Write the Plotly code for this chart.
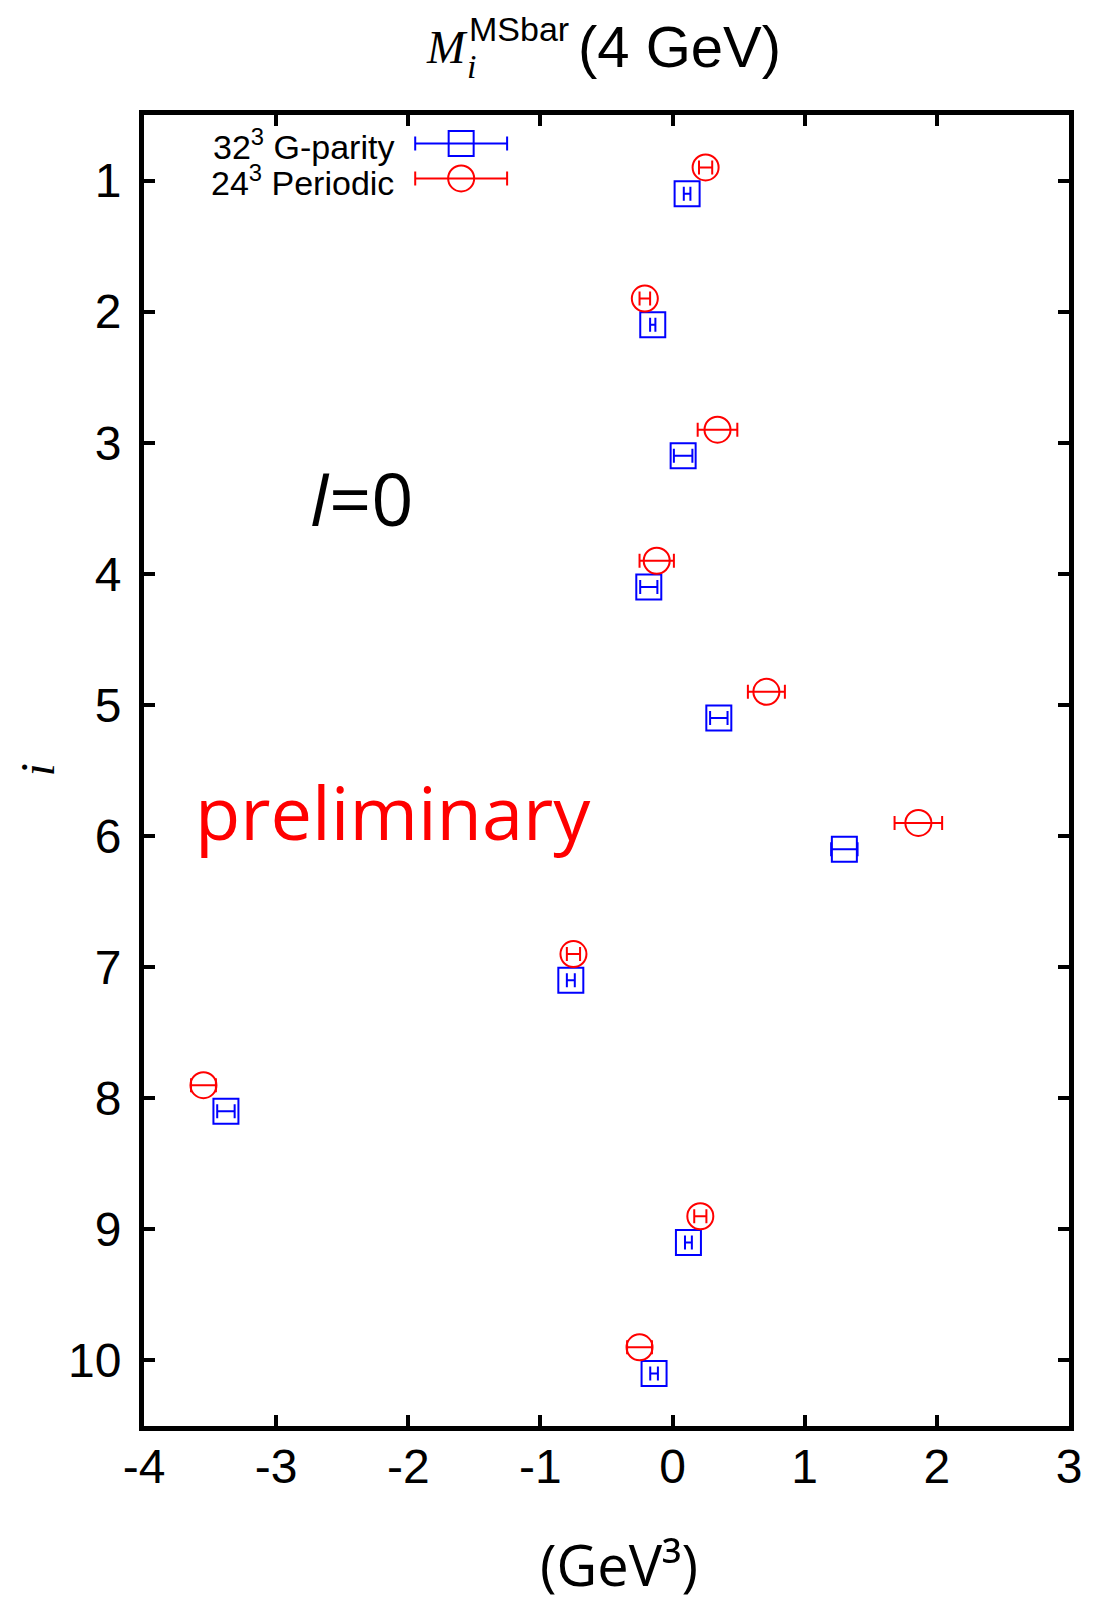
import plotly.graph_objects as go

# ---------------- data ----------------
operator_index = [1, 2, 3, 4, 5, 6, 7, 8, 9, 10]

gparity_32_value = [0.11, -0.15, 0.08, -0.18, 0.35, 1.30, -0.77, -3.38, 0.12, -0.14]
gparity_32_error = [0.025, 0.02, 0.07, 0.065, 0.066, 0.10, 0.03, 0.066, 0.026, 0.029]

periodic_24_value = [0.25, -0.21, 0.34, -0.12, 0.71, 1.86, -0.75, -3.55, 0.21, -0.25]
periodic_24_error = [0.05, 0.04, 0.15, 0.13, 0.14, 0.18, 0.05, 0.094, 0.046, 0.094]

x_ticks = [-4, -3, -2, -1, 0, 1, 2, 3]
y_ticks = [1, 2, 3, 4, 5, 6, 7, 8, 9, 10]

# vertical offsets used to separate the two ensembles at each i
OFFSET_BLUE = 0.1
OFFSET_RED = -0.1

# ---------------- layout geometry (page pixels) ----------------
PAGE_W, PAGE_H = 1099, 1602
BODY = 8                     # default body margin of the html page
L, R, T, B = 143.5, 1069.5, 114.5, 1426.5   # plot area in page pixels


def px_x(p):
    return (p - L) / (R - L)


def px_y(p):
    return (B - p) / (B - T)


BLUE = "rgb(0,0,255)"
RED = "rgb(255,0,0)"
SANS = "Liberation Sans, Arial, Helvetica, sans-serif"
SERIF = "Liberation Serif, Times New Roman, serif"
OPEN = "Open Sans, sans-serif"

fig = go.Figure()

fig.add_trace(go.Scatter(
    x=gparity_32_value,
    y=[i + OFFSET_BLUE for i in operator_index],
    mode="markers",
    marker=dict(symbol="square-open", size=25, color=BLUE, line=dict(width=2, color=BLUE)),
    error_x=dict(type="data", array=gparity_32_error, color=BLUE, thickness=2, width=7),
    showlegend=False,
))

fig.add_trace(go.Scatter(
    x=periodic_24_value,
    y=[i + OFFSET_RED for i in operator_index],
    mode="markers",
    marker=dict(symbol="circle-open", size=26, color=RED, line=dict(width=2, color=RED)),
    error_x=dict(type="data", array=periodic_24_error, color=RED, thickness=2, width=7),
    showlegend=False,
))

# ---------------- legend keys (gnuplot-style, text left of key) ----------------
legend_key_x = [px_x(461)]
legend_key_halfwidth = [px_x(461) - px_x(415)]
legend_row_y = [px_y(143), px_y(178)]

fig.add_trace(go.Scatter(
    x=legend_key_x, y=[legend_row_y[0]], xaxis="x2", yaxis="y2",
    mode="markers",
    marker=dict(symbol="square-open", size=25, color=BLUE, line=dict(width=2, color=BLUE)),
    error_x=dict(type="data", array=legend_key_halfwidth, color=BLUE, thickness=2, width=7),
    showlegend=False, hoverinfo="skip",
))
fig.add_trace(go.Scatter(
    x=legend_key_x, y=[legend_row_y[1]], xaxis="x2", yaxis="y2",
    mode="markers",
    marker=dict(symbol="circle-open", size=26, color=RED, line=dict(width=2, color=RED)),
    error_x=dict(type="data", array=legend_key_halfwidth, color=RED, thickness=2, width=7),
    showlegend=False, hoverinfo="skip",
))

annotations = []


def ann(text, x, y, size, family, color="black", xanchor="center", yanchor="middle", angle=0):
    annotations.append(dict(
        text=text, x=x, y=y, xref="paper", yref="paper", showarrow=False,
        xanchor=xanchor, yanchor=yanchor, textangle=angle,
        font=dict(size=size, family=family, color=color),
    ))


# legend labels
ann("32<sup>3</sup> G-parity", px_x(396), px_y(144), 34, SANS, xanchor="right")
ann("24<sup>3</sup> Periodic", px_x(396), px_y(180), 34, SANS, xanchor="right")

# title pieces
ann("<i>M</i>", px_x(447), px_y(47), 46, SERIF)
ann("<i>i</i>", px_x(471), px_y(66), 34, SERIF)
ann("MSbar", px_x(467), px_y(28), 34, SANS, xanchor="left")
ann("(4 GeV)", px_x(576), px_y(46), 58, SANS, xanchor="left")

# in-plot labels
ann("<i>I</i>=0", px_x(361), px_y(497), 74, OPEN)
ann("preliminary", px_x(393), px_y(812), 74, OPEN, color=RED)

# axis titles
ann("<i>i</i>", px_x(36), px_y(770), 48, SERIF, angle=-90)
ann("(GeV³)", px_x(619), px_y(1565), 56, OPEN)

axis_common = dict(
    showline=True, linewidth=5, linecolor="black", mirror="ticks",
    ticks="inside", ticklen=11, tickwidth=4, tickcolor="black",
    showgrid=False, zeroline=False,
    tickfont=dict(size=48, family=SANS, color="black"),
)

fig.update_layout(
    width=PAGE_W - BODY, height=PAGE_H - BODY,
    margin=dict(l=L - BODY, r=PAGE_W - R, t=T - BODY, b=PAGE_H - B),
    paper_bgcolor="white", plot_bgcolor="white",
    showlegend=False,
    xaxis=dict(range=[-4, 3], tickvals=x_ticks, ticktext=[str(v) for v in x_ticks],
               ticklabelstandoff=-6, **axis_common),
    yaxis=dict(range=[10.5, 0.5], tickvals=y_ticks, ticktext=[str(v) for v in y_ticks],
               ticklabelstandoff=8, **axis_common),
    xaxis2=dict(overlaying="x", range=[0, 1], visible=False),
    yaxis2=dict(overlaying="y", range=[0, 1], visible=False),
    annotations=annotations,
)

fig.write_html("out.html")
